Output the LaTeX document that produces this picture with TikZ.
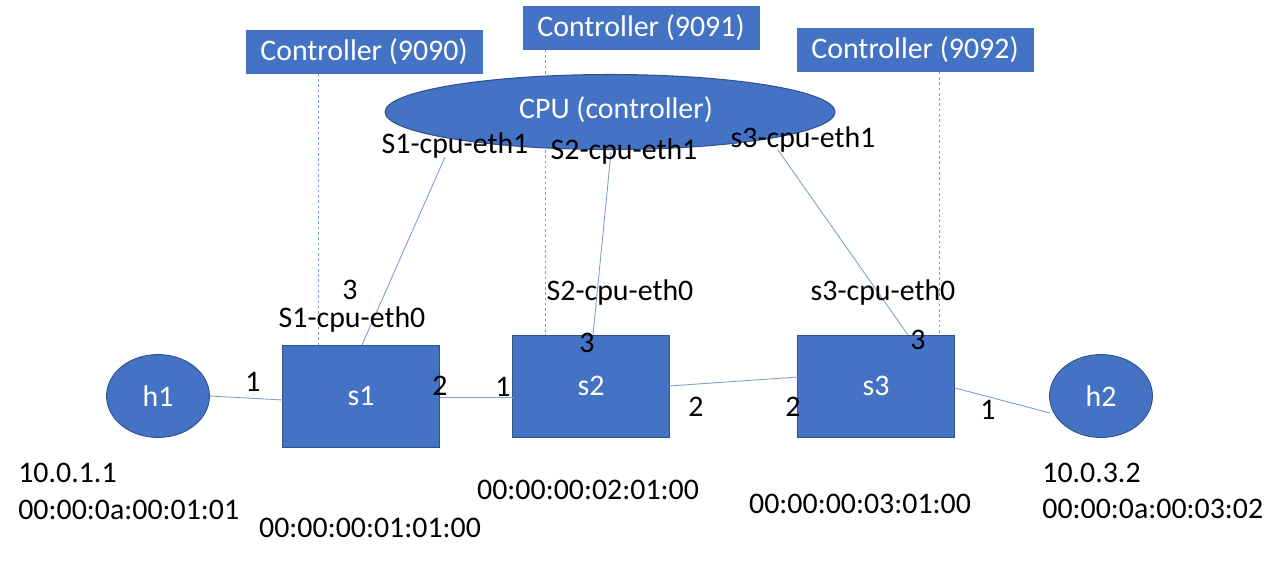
\documentclass[tikz,border=0pt]{standalone}
\usepackage{fontspec}
\setmainfont{Carlito}
\usetikzlibrary{shapes.geometric}
\definecolor{obl}{HTML}{4472C4}
\definecolor{obd}{HTML}{2F528F}
\definecolor{lnk}{HTML}{7F9CCF}
\tikzset{
  every node/.style={font=\fontsize{17}{20}\selectfont},
  ctrl/.style={draw=obl, fill=obl, text=white, minimum width=4.72cm, minimum height=0.86cm, inner sep=0pt},
  sw/.style={draw=obd, line width=0.5pt, fill=obl, text=white, minimum width=3.14cm, minimum height=2.04cm, inner sep=0pt},
  host/.style={ellipse, draw=obd, line width=0.5pt, fill=obl, text=white, minimum width=2.06cm, minimum height=1.66cm, inner sep=0pt},
  cpu/.style={ellipse, draw=obd, line width=0.6pt, fill=obl, text=white, minimum width=9cm, minimum height=1.5cm, inner sep=0pt},
  link/.style={draw=lnk, line width=0.5pt},
  dotline/.style={draw=lnk, line width=0.5pt, dash pattern=on 1.5pt off 1.5pt},
  lbl/.style={text=black, inner sep=0pt},
  lblw/.style={text=black, inner sep=0pt, anchor=west}
}
\begin{document}
\begin{tikzpicture}[x=0.02cm,y=-0.02cm]
\useasboundingbox (0,0) rectangle (1280,565);
% controllers
\node[ctrl] (c0) at (364,52) {Controller (9090)};
\node[ctrl] (c1) at (641,28) {Controller (9091)};
\node[ctrl] (c2) at (915,50) {Controller (9092)};
% switches and hosts
\node[sw] (s1) at (361,396) {s1};
\node[sw] (s2) at (591,386) {s2};
\node[sw] (s3) at (876,386) {s3};
\node[host] (h1) at (158,396) {h1};
\node[host] (h2) at (1101,396) {h2};
% dotted controller lines
\coordinate (d0) at (318,0);
\coordinate (d1) at (545,0);
\coordinate (d2) at (939,0);
\draw[dotline] (c0.south -| d0) -- (s1.north -| d0);
\draw[dotline] (c1.south -| d1) -- (s2.north -| d1);
\draw[dotline] (c2.south -| d2) -- (s3.north -| d2);
% CPU
\node[cpu] (cpu) at (610,112) {};
\node[text=white, inner sep=0pt] (cput) at (616,110) {CPU (controller)};
% cpu links
\coordinate (e1) at (445,157);
\coordinate (e2) at (611,152);
\coordinate (e3) at (778,150);
\coordinate (p1) at (362,345);
\coordinate (p2) at (593,335);
\coordinate (p3) at (908,335);
\draw[link] (e1) -- (p1);
\draw[link] (e2) -- (p2);
\draw[link] (e3) -- (p3);
% data links
\coordinate (h1r) at (210,396);
\coordinate (s1l) at (283,400);
\coordinate (s1r) at (440,397);
\coordinate (s2l) at (514,397);
\coordinate (s2r) at (669,386);
\coordinate (s3l) at (798,377);
\coordinate (s3r) at (955,388);
\coordinate (h2l) at (1050,413);
\draw[link] (h1r) -- (s1l);
\draw[link] (s1r) -- (s2l);
\draw[link] (s2r) -- (s3l);
\draw[link] (s3r) -- (h2l);
% labels
\node[lbl] (l1) at (455,146) {S1-cpu-eth1};
\node[lbl] (l2) at (624,152) {S2-cpu-eth1};
\node[lbl] (l3) at (803,140) {s3-cpu-eth1};
\node[lbl] (l4) at (350,290) {3};
\node[lbl] (l5) at (352,320) {S1-cpu-eth0};
\node[lbl] (l6) at (620,293) {S2-cpu-eth0};
\node[lbl] (l7) at (587,343) {3};
\node[lbl] (l8) at (883,293) {s3-cpu-eth0};
\node[lbl] (l9) at (918,340) {3};
\node[lbl] (n1) at (253,382) {1};
\node[lbl] (n2) at (440,386) {2};
\node[lbl] (n3) at (503,387) {1};
\node[lbl] (n4) at (696,407) {2};
\node[lbl] (n5) at (793,407) {2};
\node[lbl] (n6) at (988,410) {1};
\node[lblw] (a1) at (18,473) {10.0.1.1};
\node[lblw] (a2) at (18,510) {00:00:0a:00:01:01};
\node[lbl] (m1) at (370,528) {00:00:00:01:01:00};
\node[lbl] (m2) at (588,490) {00:00:00:02:01:00};
\node[lbl] (m3) at (860,504) {00:00:00:03:01:00};
\node[lblw] (b1) at (1042,473) {10.0.3.2};
\node[lblw] (b2) at (1042,509) {00:00:0a:00:03:02};
\end{tikzpicture}
\end{document}
